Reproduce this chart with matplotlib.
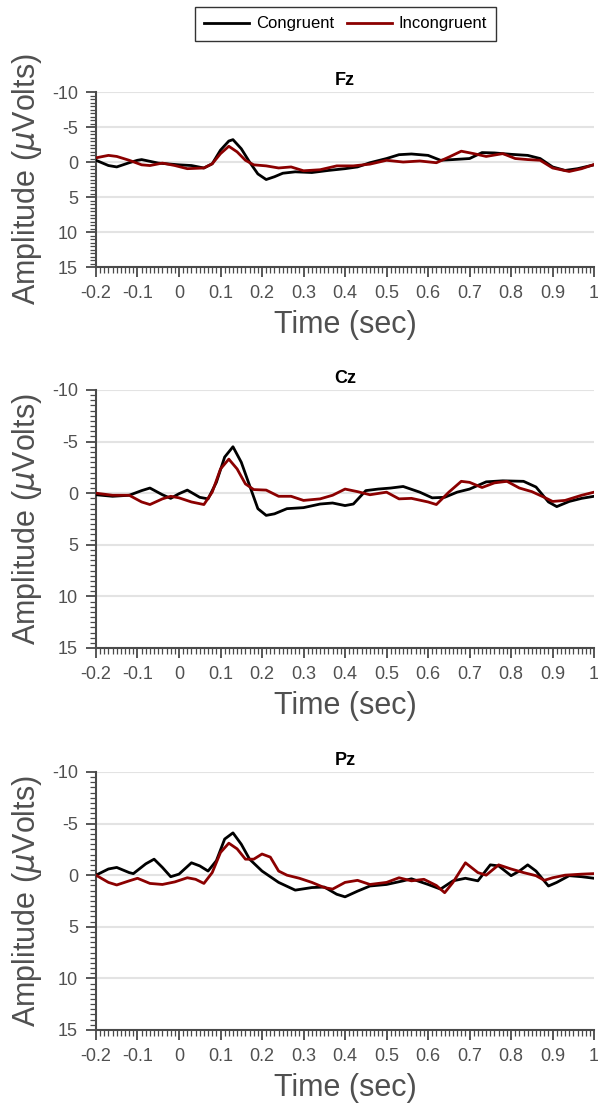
import matplotlib.pyplot as plt
from matplotlib.ticker import MultipleLocator

plt.rcParams['font.family'] = ['Liberation Sans', 'DejaVu Sans']
plt.rcParams['axes.unicode_minus'] = False

# Fz
fz_t_con = [-0.2, -0.17, -0.15, -0.12, -0.1, -0.09, -0.05, 0.0, 0.03, 0.06, 0.08, 0.1, 0.12, 0.13,
            0.15, 0.17, 0.19, 0.21, 0.23, 0.25, 0.28, 0.32, 0.36, 0.4, 0.43, 0.46, 0.5, 0.53,
            0.56, 0.6, 0.63, 0.66, 0.7, 0.73, 0.76, 0.8, 0.84, 0.87, 0.9, 0.93, 0.96, 1.0]
fz_con = [-0.25, 0.5, 0.7, 0.1, -0.25, -0.35, 0.15, 0.4, 0.5, 0.85, 0.25, -1.7, -3.0, -3.2,
          -1.9, 0.0, 1.7, 2.5, 2.1, 1.6, 1.4, 1.5, 1.2, 0.95, 0.7, 0.1, -0.5, -1.05,
          -1.15, -0.95, -0.25, -0.35, -0.5, -1.35, -1.3, -1.1, -0.95, -0.5, 0.7, 1.2, 0.95, 0.4]
fz_t_inc = [-0.2, -0.17, -0.15, -0.12, -0.09, -0.07, -0.04, -0.01, 0.02, 0.06, 0.08, 0.1, 0.12,
            0.14, 0.16, 0.18, 0.21, 0.24, 0.27, 0.3, 0.34, 0.38, 0.42, 0.46, 0.5, 0.54, 0.58,
            0.62, 0.65, 0.68, 0.71, 0.74, 0.78, 0.81, 0.84, 0.87, 0.9, 0.94, 0.97, 1.0]
fz_inc = [-0.6, -0.95, -0.8, -0.25, 0.4, 0.5, 0.15, 0.5, 0.95, 0.85, 0.25, -1.2, -2.25,
          -1.45, -0.25, 0.4, 0.55, 0.85, 0.7, 1.25, 1.1, 0.55, 0.55, 0.3, -0.25, 0.0, -0.15,
          0.1, -0.7, -1.55, -1.2, -0.8, -1.2, -0.5, -0.35, -0.25, 0.85, 1.35, 0.95, 0.35]

# Cz
cz_t_con = [-0.2, -0.16, -0.12, -0.09, -0.07, -0.04, -0.02, 0.0, 0.02, 0.05, 0.07, 0.09, 0.11,
            0.13, 0.15, 0.17, 0.19, 0.21, 0.23, 0.26, 0.3, 0.34, 0.37, 0.4, 0.42, 0.45, 0.48,
            0.51, 0.54, 0.58, 0.61, 0.64, 0.67, 0.7, 0.74, 0.78, 0.83, 0.86, 0.89, 0.91, 0.94,
            0.97, 1.0]
cz_con = [0.15, 0.3, 0.2, -0.25, -0.5, 0.15, 0.5, 0.05, -0.3, 0.4, 0.55, -1.05, -3.5,
          -4.5, -3.0, -0.75, 1.5, 2.15, 2.0, 1.5, 1.4, 1.05, 0.95, 1.2, 1.05, -0.25, -0.4,
          -0.5, -0.65, -0.1, 0.45, 0.4, -0.1, -0.4, -1.1, -1.2, -1.15, -0.6, 0.85, 1.3, 0.8,
          0.5, 0.3]
cz_t_inc = [-0.2, -0.16, -0.12, -0.09, -0.07, -0.04, -0.02, 0.0, 0.03, 0.06, 0.08, 0.1, 0.12,
            0.14, 0.16, 0.18, 0.21, 0.24, 0.27, 0.3, 0.34, 0.37, 0.4, 0.43, 0.46, 0.5, 0.53,
            0.56, 0.6, 0.62, 0.65, 0.68, 0.7, 0.73, 0.76, 0.79, 0.82, 0.85, 0.88, 0.9, 0.93,
            0.97, 1.0]
cz_inc = [0.0, 0.2, 0.2, 0.85, 1.1, 0.55, 0.3, 0.45, 0.85, 1.1, -0.1, -2.35, -3.3,
          -2.35, -0.9, -0.35, -0.3, 0.3, 0.3, 0.7, 0.55, 0.2, -0.4, -0.15, 0.15, -0.1, 0.55,
          0.5, 0.85, 1.1, -0.1, -1.15, -1.05, -0.55, -1.0, -1.15, -0.5, -0.15, 0.4, 0.8, 0.7,
          0.2, -0.1]

# Pz
pz_t_con = [-0.2, -0.17, -0.15, -0.12, -0.11, -0.08, -0.06, -0.04, -0.02, 0.0, 0.03, 0.05, 0.07,
            0.09, 0.11, 0.13, 0.15, 0.17, 0.2, 0.24, 0.28, 0.32, 0.35, 0.38, 0.4, 0.43, 0.46,
            0.5, 0.54, 0.56, 0.6, 0.63, 0.66, 0.69, 0.72, 0.75, 0.77, 0.8, 0.82, 0.84, 0.86,
            0.89, 0.91, 0.94, 0.97, 1.0]
pz_con = [0.0, -0.6, -0.75, -0.25, -0.15, -1.1, -1.55, -0.75, 0.15, -0.1, -1.2, -0.9, -0.4,
          -1.4, -3.5, -4.1, -3.0, -1.55, -0.4, 0.7, 1.45, 1.2, 1.15, 1.85, 2.1, 1.55, 1.05,
          0.9, 0.55, 0.35, 0.9, 1.35, 0.55, 0.3, 0.55, -1.0, -0.9, 0.05, -0.4, -1.0, -0.4,
          1.05, 0.7, 0.05, 0.15, 0.3]
pz_t_inc = [-0.2, -0.17, -0.15, -0.12, -0.1, -0.07, -0.04, -0.01, 0.02, 0.04, 0.06, 0.08, 0.1,
            0.12, 0.14, 0.16, 0.18, 0.2, 0.22, 0.24, 0.26, 0.29, 0.32, 0.35, 0.37, 0.4, 0.43,
            0.46, 0.5, 0.53, 0.56, 0.59, 0.62, 0.64, 0.66, 0.69, 0.72, 0.74, 0.77, 0.8, 0.83,
            0.86, 0.88, 0.9, 0.93, 0.97, 1.0]
pz_inc = [0.0, 0.7, 0.95, 0.55, 0.3, 0.8, 0.9, 0.65, 0.25, 0.4, 0.8, -0.25, -2.2,
          -3.1, -2.55, -1.55, -1.55, -2.05, -1.75, -0.4, 0.0, 0.3, 0.7, 1.2, 1.35, 0.7, 0.5,
          0.9, 0.7, 0.25, 0.55, 0.4, 1.0, 1.7, 0.7, -1.2, -0.25, 0.0, -1.0, -0.6, -0.25,
          0.05, 0.5, 0.25, 0.0, -0.1, -0.15]

channels = ['Fz', 'Cz', 'Pz']
series = [(fz_t_con, fz_con, fz_t_inc, fz_inc),
          (cz_t_con, cz_con, cz_t_inc, cz_inc),
          (pz_t_con, pz_con, pz_t_inc, pz_inc)]

xticks = [-0.2, -0.1, 0, 0.1, 0.2, 0.3, 0.4, 0.5, 0.6, 0.7, 0.8, 0.9, 1.0]
xticklabels = ['-0.2', '-0.1', '0', '0.1', '0.2', '0.3', '0.4', '0.5', '0.6', '0.7', '0.8', '0.9', '1']
yticks = [-10, -5, 0, 5, 10, 15]

fig = plt.figure(figsize=(5.98, 11.13), dpi=100)
# first axes is shorter: the legend sits above it (like a northoutside legend)
positions = [[0.1605, 0.7601, 0.833, 0.1572],
             [0.1605, 0.4178, 0.833, 0.2318],
             [0.1605, 0.0746, 0.833, 0.2318]]

spine_col = '#4a4a4a'
lab_col = '#505050'

for ind, name in enumerate(channels):
    ax = fig.add_axes(positions[ind])
    t_c, v_c, t_i, v_i = series[ind]
    l1, = ax.plot(t_c, v_c, color='black', lw=2.0, label='Congruent', zorder=3)
    l2, = ax.plot(t_i, v_i, color='#8b0000', lw=2.0, label='Incongruent', zorder=4)

    ax.set_xlim(-0.2, 1.0)
    ax.set_ylim(15, -10)
    ax.set_xticks(xticks)
    ax.set_xticklabels(xticklabels)
    ax.set_yticks(yticks)
    ax.xaxis.set_minor_locator(MultipleLocator(0.01))
    ax.yaxis.set_minor_locator(MultipleLocator(0.5))

    ax.grid(axis='y', which='major', color='#e3e3e3', lw=1.5, zorder=0)
    ax.set_axisbelow(True)

    for side in ['top', 'right']:
        ax.spines[side].set_visible(False)
    for side in ['left', 'bottom']:
        ax.spines[side].set_color(spine_col)
        ax.spines[side].set_linewidth(1.5)

    ax.tick_params(which='major', direction='out', length=7, width=1.3,
                   color=spine_col, labelcolor=lab_col, labelsize=13, pad=6)
    ax.tick_params(which='minor', direction='out', length=4, width=0.9, color=spine_col)

    ax.set_title(name, fontsize=13, fontweight='bold', pad=5)
    ax.set_xlabel('Time (sec)', fontsize=22, color=lab_col, labelpad=6)
    ax.set_ylabel(r'Amplitude ($\mu$Volts)', fontsize=22, color=lab_col, labelpad=6)

fig.legend(handles=[l1, l2], loc='upper center', bbox_to_anchor=(0.578, 0.9935), ncol=2,
           fontsize=12, frameon=True, fancybox=False, edgecolor='black', borderaxespad=0,
           handlelength=2.7, columnspacing=0.8, handletextpad=0.4, borderpad=0.55)

fig.savefig('out.png', dpi=100)
